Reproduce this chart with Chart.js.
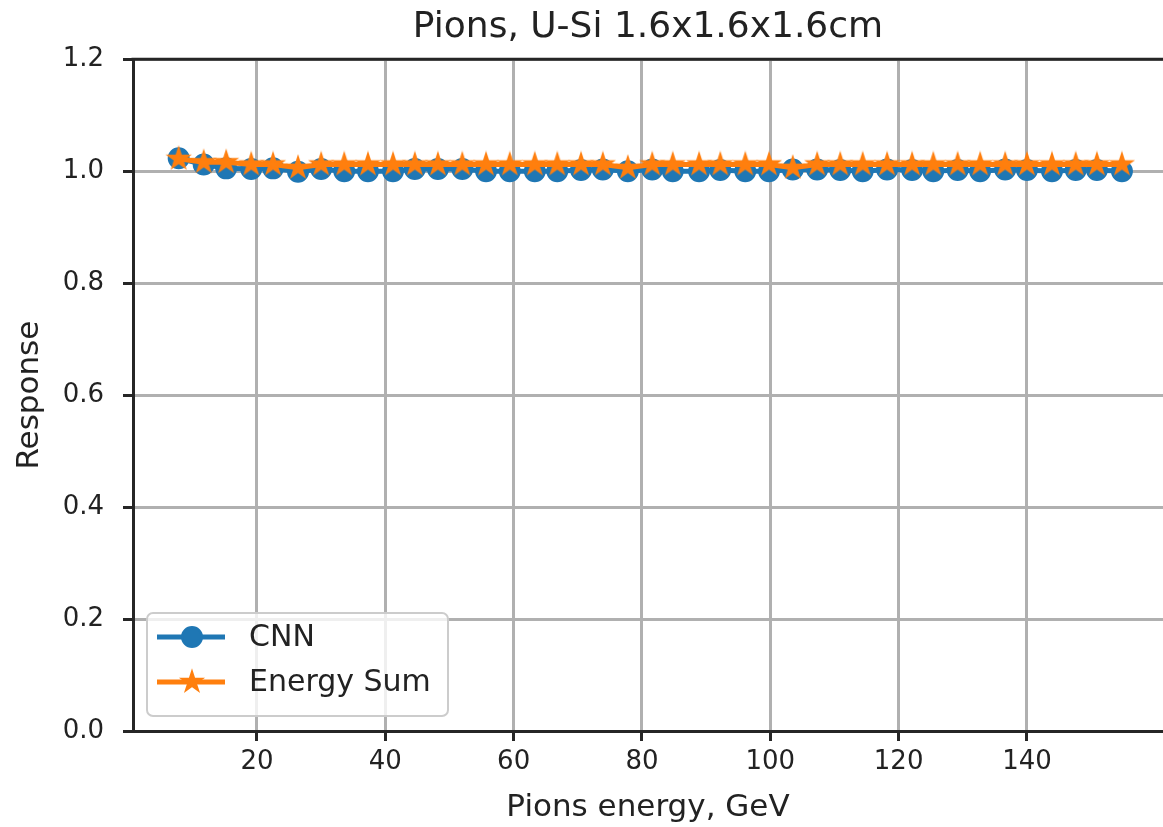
<!DOCTYPE html>
<html>
<head>
<meta charset="utf-8">
<title>Pions, U-Si 1.6x1.6x1.6cm</title>
<script src="https://cdn.jsdelivr.net/npm/chart.js@4.4.1/dist/chart.umd.min.js"></script>
<style>
  html, body { margin: 0; padding: 0; background: #fff; }
  canvas { display: block; }
</style>
</head>
<body>
<canvas id="responseChart" width="1163" height="827"></canvas>
<script>
  // Values
  const energies = [7.8, 11.7, 15.2, 19.1, 22.5, 26.4, 30.0, 33.6, 37.3, 41.2, 44.6, 48.2, 52.0, 55.7,
    59.4, 63.3, 66.8, 70.5, 73.9, 77.8, 81.6, 84.8, 88.9, 92.2, 96.1, 99.8, 103.5, 107.3, 110.9,
    114.4, 118.2, 122.1, 125.4, 129.2, 132.7, 136.6, 140.0, 143.9, 147.6, 150.9, 154.8];
  const cnnResponse = [1.023, 1.012, 1.005, 1.004, 1.005, 0.999, 1.004, 1.000, 1.000, 1.000, 1.004,
    1.004, 1.004, 1.000, 1.000, 1.000, 1.000, 1.002, 1.003, 1.000, 1.003, 1.000, 1.000, 1.002,
    1.000, 1.000, 1.003, 1.003, 1.002, 1.000, 1.003, 1.002, 1.000, 1.002, 1.000, 1.003, 1.002,
    1.000, 1.002, 1.002, 1.000];
  const energySumResponse = [1.022, 1.016, 1.016, 1.012, 1.012, 1.006, 1.012, 1.012, 1.012, 1.012,
    1.012, 1.012, 1.012, 1.012, 1.012, 1.012, 1.012, 1.012, 1.012, 1.006, 1.012, 1.012, 1.012,
    1.012, 1.012, 1.012, 1.006, 1.012, 1.012, 1.012, 1.012, 1.012, 1.012, 1.012, 1.012, 1.012,
    1.012, 1.012, 1.012, 1.012, 1.012];
  const xTicks = [20, 40, 60, 80, 100, 120, 140];
  const yTicks = [0, 0.2, 0.4, 0.6, 0.8, 1.0, 1.2];

  const BLUE = '#1f77b4';
  const ORANGE = '#ff7f0e';
  const INK = '#222222';

  Chart.defaults.font.family = '"DejaVu Sans", sans-serif';
  Chart.defaults.color = INK;

  // matplotlib style filled star marker
  function starMarker(r, color) {
    const size = 28;
    const c = document.createElement('canvas');
    c.width = size;
    c.height = size;
    const g = c.getContext('2d');
    g.translate(size / 2, size / 2);
    g.beginPath();
    for (let i = 0; i < 10; i++) {
      const rad = i % 2 === 0 ? r : r * 0.381966;
      const a = -Math.PI / 2 + i * Math.PI / 5;
      g.lineTo(rad * Math.cos(a), rad * Math.sin(a));
    }
    g.closePath();
    g.fillStyle = color;
    g.fill();
    g.lineWidth = 2;
    g.strokeStyle = color;
    g.stroke();
    return c;
  }

  const star = starMarker(10.5, ORANGE);

  function toPoints(ys) {
    return energies.map((e, i) => ({ x: e, y: ys[i] }));
  }

  function roundedRect(ctx, x, y, w, h, r) {
    ctx.beginPath();
    ctx.moveTo(x + r, y);
    ctx.arcTo(x + w, y, x + w, y + h, r);
    ctx.arcTo(x + w, y + h, x, y + h, r);
    ctx.arcTo(x, y + h, x, y, r);
    ctx.arcTo(x, y, x + w, y, r);
    ctx.closePath();
  }

  // top spine
  const frame = {
    id: 'frame',
    afterDraw(chart) {
      const { ctx, chartArea } = chart;
      ctx.save();
      ctx.strokeStyle = '#262626';
      ctx.lineWidth = 3;
      ctx.beginPath();
      ctx.moveTo(chartArea.left - 1.5, chartArea.top);
      ctx.lineTo(chartArea.right, chartArea.top);
      ctx.stroke();
      ctx.restore();
    }
  };

  // legend in the lower left corner of the plot
  const insideLegend = {
    id: 'insideLegend',
    afterDraw(chart) {
      const { ctx, chartArea } = chart;
      const w = 301, h = 103;
      const x = chartArea.left + 14;
      const y = chartArea.bottom - 15 - h;
      ctx.save();
      roundedRect(ctx, x, y, w, h, 6);
      ctx.fillStyle = 'rgba(255,255,255,0.8)';
      ctx.fill();
      ctx.lineWidth = 2;
      ctx.strokeStyle = '#cccccc';
      ctx.stroke();

      chart.data.datasets.forEach((ds, i) => {
        const rowY = y + 24 + i * 45;
        ctx.strokeStyle = ds.borderColor;
        ctx.lineWidth = ds.borderWidth;
        ctx.beginPath();
        ctx.moveTo(x + 10, rowY);
        ctx.lineTo(x + 78, rowY);
        ctx.stroke();
        if (ds.pointStyle === 'circle') {
          ctx.beginPath();
          ctx.arc(x + 45, rowY, ds.pointRadius, 0, Math.PI * 2);
          ctx.fillStyle = ds.pointBackgroundColor;
          ctx.fill();
          ctx.lineWidth = ds.pointBorderWidth;
          ctx.strokeStyle = ds.pointBorderColor;
          ctx.stroke();
        } else {
          ctx.drawImage(ds.pointStyle, x + 45 - ds.pointStyle.width / 2, rowY - ds.pointStyle.height / 2);
        }
        ctx.fillStyle = INK;
        ctx.font = '30px "DejaVu Sans", sans-serif';
        ctx.textBaseline = 'middle';
        ctx.textAlign = 'left';
        ctx.fillText(ds.label, x + 102, rowY + 1);
      });
      ctx.restore();
    }
  };

  const ctx = document.getElementById('responseChart').getContext('2d');
  new Chart(ctx, {
    type: 'line',
    data: {
      datasets: [{
        label: 'CNN',
        data: toPoints(cnnResponse),
        borderColor: BLUE,
        backgroundColor: BLUE,
        borderWidth: 5,
        pointStyle: 'circle',
        pointRadius: 10,
        pointBorderWidth: 2,
        pointBackgroundColor: BLUE,
        pointBorderColor: BLUE,
        order: 2
      }, {
        label: 'Energy Sum',
        data: toPoints(energySumResponse),
        borderColor: ORANGE,
        backgroundColor: ORANGE,
        borderWidth: 5,
        pointStyle: star,
        pointRadius: 11,
        order: 1
      }]
    },
    options: {
      responsive: false,
      animation: false,
      devicePixelRatio: 1,
      layout: { autoPadding: false, padding: { left: 0, right: 0, top: 0, bottom: 0 } },
      scales: {
        x: {
          type: 'linear',
          min: 0.68,
          max: 161.2,
          afterBuildTicks: axis => { axis.ticks = xTicks.map(v => ({ value: v })); },
          afterFit: axis => {
            axis.height = 96;
            axis.paddingLeft = 0;
            axis.paddingRight = 0;
          },
          ticks: { font: { size: 26 }, color: INK, padding: 6, maxRotation: 0 },
          grid: { color: '#b0b0b0', lineWidth: 3, tickColor: '#262626', tickLength: 10, tickWidth: 3 },
          border: { color: '#262626', width: 3 },
          title: { display: true, text: 'Pions energy, GeV', font: { size: 31 }, color: INK, padding: { top: 0, bottom: 0 } }
        },
        y: {
          min: 0,
          max: 1.2,
          afterBuildTicks: axis => { axis.ticks = yTicks.map(v => ({ value: v })); },
          afterFit: axis => { axis.width = 133; },
          ticks: { font: { size: 26 }, color: INK, padding: 19, callback: v => v.toFixed(1) },
          grid: { color: '#b0b0b0', lineWidth: 3, tickColor: '#262626', tickLength: 10, tickWidth: 3 },
          border: { color: '#262626', width: 3 },
          title: { display: true, text: 'Response', font: { size: 31 }, color: INK, padding: { top: 11, bottom: 0 } }
        }
      },
      plugins: {
        legend: { display: false },
        tooltip: { enabled: false },
        title: {
          display: true,
          text: 'Pions, U-Si 1.6x1.6x1.6cm',
          fullSize: false,
          color: INK,
          font: { size: 36, weight: 'normal' },
          padding: { top: 6, bottom: 10 }
        }
      }
    },
    plugins: [frame, insideLegend]
  });
</script>
</body>
</html>
